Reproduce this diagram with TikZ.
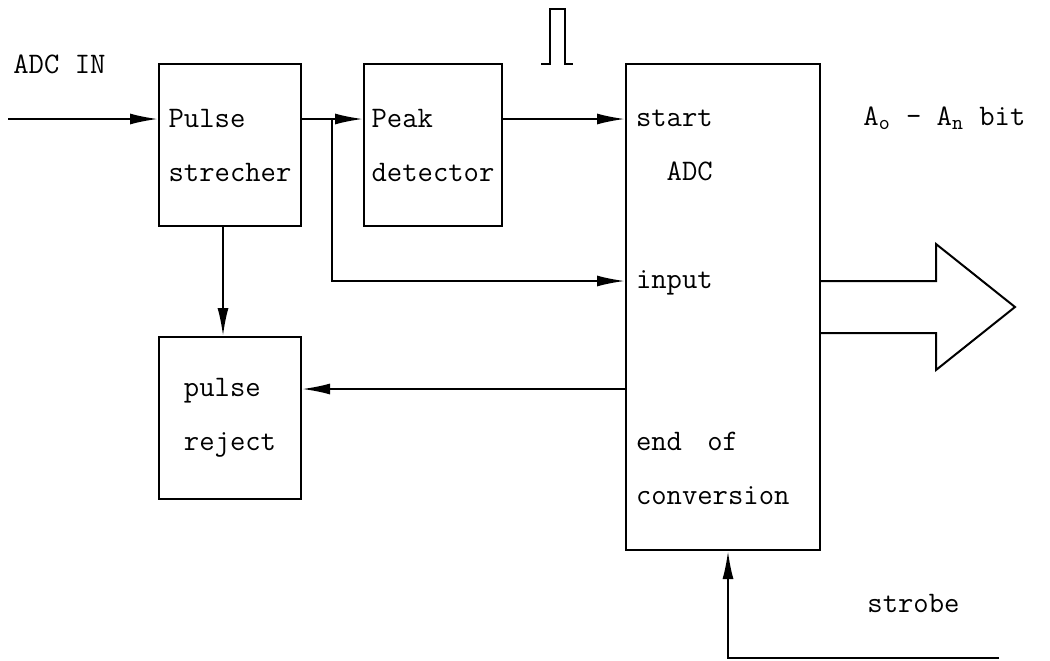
\documentclass[tikz,border=0pt]{standalone}
\usetikzlibrary{arrows.meta, positioning}

\begin{document}
\begin{tikzpicture}[
    x=0.5pt, y=-0.5pt,
    node distance=30pt,
    every node/.style={
        font={\fontsize{14.9pt}{27pt}\selectfont\ttfamily},
        align=left,
        inner sep=0pt
    },
    block/.style={
        draw,
        line width=1pt,
        minimum width=71pt,
        minimum height=81pt
    },
    arrow/.style={-{Latex[length=14pt, width=5.5pt]}, line width=1pt}
]
\useasboundingbox (0,0) rectangle (1050,660);

\node[block] (strecher) at (230,145) {Pulse\\strecher};

\node[block, right=30.5pt of strecher, minimum width=69pt] (peak) {Peak\\detector};

\node[block, right=61pt of peak.north east, anchor=north west,
      minimum width=97pt, minimum height=243pt,
      text width=87pt, inner xsep=5pt] (adc) {
    start\\
    \phantom{xx}ADC\\[27pt]
    input\\[54pt]
    end\phantom{x}\ of\\
    conversion
};

\node[block, below=54.5pt of strecher] (reject) {pulse\\reject};

\node[anchor=base west] (adcinlbl) at (13,73) {ADC IN};
\node[anchor=base west] (bits) at (863,125) {A\textsubscript{o} - A\textsubscript{n} bit};
\node[anchor=base west] (strobelbl) at (867,612) {strobe};

\coordinate (adcin) at (8,119);
\coordinate (tap) at (332,119);
\coordinate (inlvl) at (0,281);
\coordinate (eoclvl) at (0,389);
\coordinate (strb) at (994,658);

\draw[arrow] (adcin) -- (adcin -| strecher.west);
\draw[arrow] (adcin -| strecher.east) -- (adcin -| peak.west);
\draw[arrow] (adcin -| peak.east) -- (adcin -| adc.west);
\draw[arrow] (tap) |- (inlvl -| adc.west);
\draw[arrow] ([xshift=-3.5pt]strecher.south) -- ([xshift=-3.5pt]reject.north);
\draw[arrow] (eoclvl -| adc.west) -- (eoclvl -| reject.east);
\draw[arrow] ([xshift=2.5pt]strb) -| ([xshift=2.5pt]adc.south);

\draw[line width=1pt] ([yshift=13pt]adc.east) -- ++(57.5pt,0pt) -- ++(0pt,18.5pt)
    -- ++(39.5pt,-31.5pt) -- ++(-39.5pt,-31.5pt) -- ++(0pt,18.5pt) -- ++(-57.5pt,0pt);

\draw[line width=1pt] (541,64) -- (550,64) -- (550,9) -- (565,9) -- (565,64) -- (573,64);

\end{tikzpicture}
\end{document}
